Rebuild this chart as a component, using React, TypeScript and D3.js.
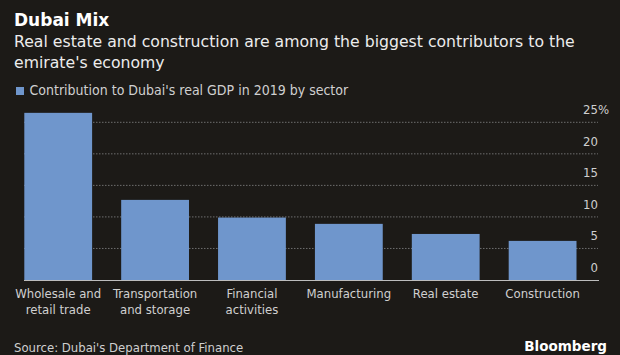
import React from "react";
import * as d3 from "d3";

const categories = [
  ["Wholesale and", "retail trade"],
  ["Transportation", "and storage"],
  ["Financial", "activities"],
  ["Manufacturing"],
  ["Real estate"],
  ["Construction"],
];
const values = [26.5, 12.7, 9.9, 8.9, 7.3, 6.2];
const yTicks = [0, 5, 10, 15, 20, 25];

const title = "Dubai Mix";
const subtitle = [
  "Real estate and construction are among the biggest contributors to the",
  "emirate's economy",
];
const legendLabel = "Contribution to Dubai's real GDP in 2019 by sector";
const source = "Source: Dubai's Department of Finance";

const W = 620;
const H = 355;
const BG = "#1c1a17";
const BAR = "#6f96cc";
const COND = "'DejaVu Sans Condensed', 'DejaVu Sans', sans-serif";

export default function App() {
  const keys = categories.map((c) => c.join(" "));
  const x = d3.scaleBand<string>().domain(keys).range([24.3, 576.5]).paddingInner(0.3).paddingOuter(0);
  const y = d3.scaleLinear().domain([0, 25]).range([280, 122.3]);

  return (
    <svg
      width={W}
      height={H}
      style={{ position: "absolute", left: 0, top: 0, display: "block" }}
    >
      <rect x={0} y={0} width={W} height={H} fill={BG} />
      <text x={14} y={26} fill="#ffffff" fontFamily="'DejaVu Sans', sans-serif" fontWeight="bold" fontSize={17}>
        {title}
      </text>
      {subtitle.map((s, i) => (
        <text key={i} x={14} y={47 + i * 20.5} fill="#ececec" fontFamily="'DejaVu Sans', sans-serif" fontSize={15.7}>
          {s}
        </text>
      ))}
      <rect x={16} y={87} width={8} height={8} fill={BAR} />
      <text x={29.5} y={95} fill="#d0d0d0" fontFamily={COND} fontSize={14}>
        {legendLabel}
      </text>

      {yTicks.filter((t) => t > 0).map((t) => (
        <line
          key={t}
          x1={24}
          x2={598}
          y1={y(t)}
          y2={y(t)}
          stroke="#6e6e6e"
          strokeWidth={1}
          strokeDasharray="1.5,1.5"
        />
      ))}

      {values.map((v, i) => (
        <rect
          key={i}
          x={x(keys[i])}
          width={x.bandwidth()}
          y={y(v)}
          height={y(0) - y(v)}
          fill={BAR}
        />
      ))}

      <line x1={24} x2={599} y1={y(0) + 0.5} y2={y(0) + 0.5} stroke="#bdbdbd" strokeWidth={1} />

      {yTicks.map((t) => (
        <text key={t} x={598} y={y(t) - 8} fill="#cfcfcf" fontFamily={COND} fontSize={13} textAnchor="end">
          {t}
        </text>
      ))}
      <text x={598} y={y(25) - 8} fill="#cfcfcf" fontFamily={COND} fontSize={13}>
        %
      </text>

      {categories.map((lines, i) =>
        lines.map((l, j) => (
          <text
            key={i + "-" + j}
            x={(x(keys[i]) as number) + x.bandwidth() / 2}
            y={298 + j * 16}
            fill="#d0d0d0"
            fontFamily={COND}
            fontSize={13}
            textAnchor="middle"
          >
            {l}
          </text>
        ))
      )}

      <text x={14} y={352} fill="#cfcfcf" fontFamily={COND} fontSize={13}>
        {source}
      </text>
      <text x={607} y={351} fill="#ffffff" fontFamily="'DejaVu Sans', sans-serif" fontWeight="bold" fontSize={13.5} textAnchor="end">
        Bloomberg
      </text>
    </svg>
  );
}
